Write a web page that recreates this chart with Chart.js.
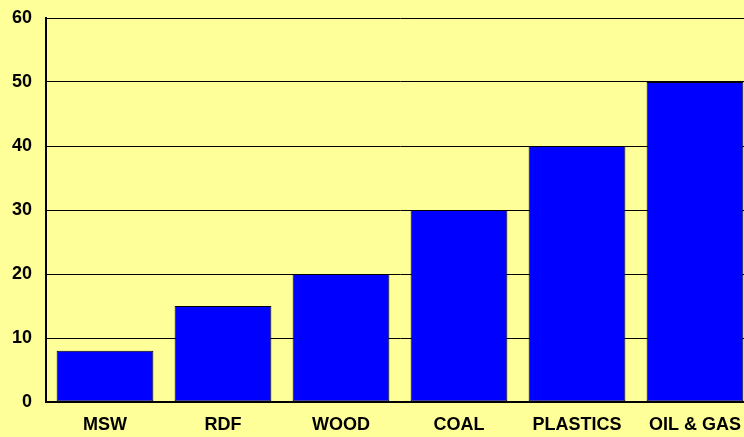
<!DOCTYPE html>
<html>
<head>
<meta charset="utf-8">
<script src="https://cdn.jsdelivr.net/npm/chart.js@4/dist/chart.umd.min.js"></script>
<style>
  html, body { margin: 0; padding: 0; background: #ffff99; overflow: hidden; }
  #wrap { width: 754px; height: 437px; }
</style>
</head>
<body>
<div id="wrap"><canvas id="fuel-chart"></canvas></div>
<script>
const categories = ['MSW', 'RDF', 'WOOD', 'COAL', 'PLASTICS', 'OIL & GAS'];
const values = [8, 15, 20, 30, 40, 50];
const yTicks = [0, 10, 20, 30, 40, 50, 60];

document.addEventListener("DOMContentLoaded", function () {
    const ctx = document.getElementById('fuel-chart').getContext('2d');
    const font = { family: 'Liberation Sans, Arial, sans-serif', size: 18, weight: 'bold' };
    new Chart(ctx, {
        type: 'bar',
        data: {
            labels: categories,
            datasets: [{
                data: values,
                backgroundColor: '#0000ff',
                borderColor: '#000000',
                borderWidth: 1,
                borderSkipped: false,
                barPercentage: 1,
                categoryPercentage: 0.82
            }]
        },
        options: {
            responsive: true,
            maintainAspectRatio: false,
            animation: false,
            layout: { padding: { top: 18, left: 0, right: 0, bottom: 0 } },
            plugins: {
                legend: { display: false },
                tooltip: { enabled: false }
            },
            scales: {
                x: {
                    grid: { display: false, drawTicks: false },
                    border: { color: '#000000', width: 2 },
                    ticks: { color: '#000000', font: font, padding: 12, maxRotation: 0 },
                    afterFit: function (scale) {
                        scale.height = 35;
                        scale.paddingLeft = 0;
                        scale.paddingRight = 0;
                    }
                },
                y: {
                    min: 0,
                    max: 60,
                    afterBuildTicks: function (scale) {
                        scale.ticks = yTicks.map(v => ({ value: v }));
                    },
                    grid: { color: '#000000', lineWidth: 1, drawTicks: false },
                    border: { color: '#000000', width: 2 },
                    ticks: { color: '#000000', font: font, padding: 14 },
                    afterFit: function (scale) {
                        scale.width = 46;
                        scale.paddingTop = 0;
                        scale.paddingBottom = 0;
                    }
                }
            }
        }
    });
});
</script>
</body>
</html>
